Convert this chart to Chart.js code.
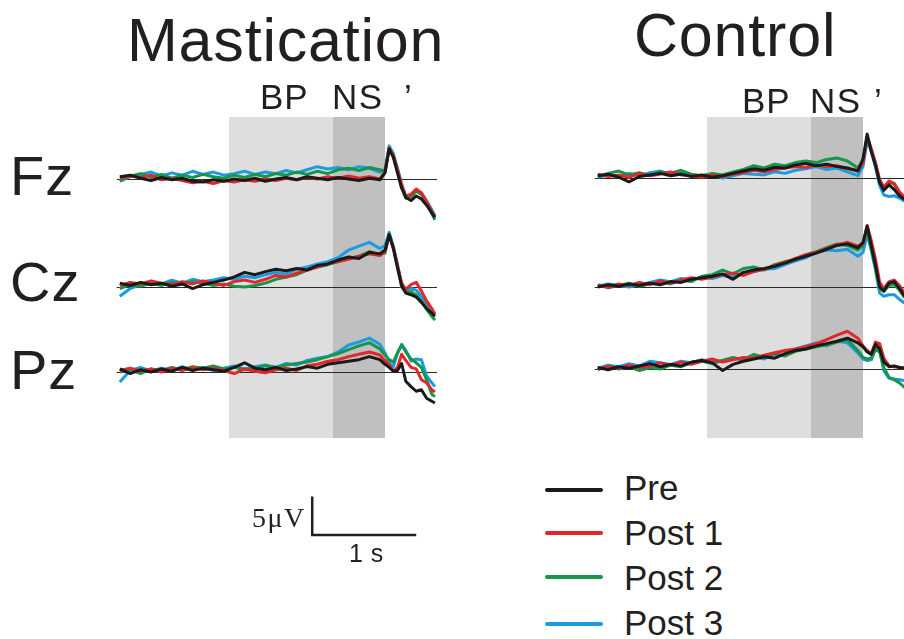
<!DOCTYPE html>
<html><head><meta charset="utf-8">
<script src="https://cdn.jsdelivr.net/npm/chart.js@4.4.1/dist/chart.umd.min.js"></script>
<style>
body{margin:0;width:904px;height:639px;overflow:hidden;background:#fff;position:relative;font-family:"Liberation Sans",Arial,sans-serif;color:#231f20}
.t{position:absolute;white-space:nowrap;line-height:1}
canvas{position:absolute}
</style></head><body>
<canvas id="mast" width="350" height="460" style="left:100px;top:100px"></canvas>
<canvas id="ctrl" width="324" height="360" style="left:580px;top:100px"></canvas>

<div class="t" style="left:127px;top:10px;font-size:61px;letter-spacing:0.8px">Mastication</div>
<div class="t" style="left:634px;top:5px;font-size:61px;letter-spacing:0.8px">Control</div>

<div class="t" style="left:260px;top:79px;font-size:35px;letter-spacing:1px">BP</div>
<div class="t" style="left:332px;top:79px;font-size:35px;letter-spacing:1.5px">NS</div>
<div class="t" style="left:404px;top:79px;font-size:35px">’</div>
<div class="t" style="left:742px;top:83px;font-size:35px;letter-spacing:1px">BP</div>
<div class="t" style="left:810px;top:83px;font-size:35px;letter-spacing:1.5px">NS</div>
<div class="t" style="left:874px;top:83px;font-size:35px">’</div>

<div id="elabels"></div>
<div id="legend"></div>

<div class="t" style="left:252px;top:504px;font-size:28px;letter-spacing:1.5px;font-family:'Liberation Serif','Times New Roman',serif">5μV</div>
<div class="t" style="left:349px;top:541px;font-size:25px;letter-spacing:0.5px">1 s</div>

<script>
// ---------------- DATA ----------------
const TIME = [-2.55,-2.45,-2.35,-2.25,-2.15,-2.05,-1.95,-1.85,-1.75,-1.65,-1.55,-1.45,-1.35,-1.25,-1.15,-1.05,-0.95,-0.85,-0.75,-0.65,-0.55,-0.45,-0.35,-0.25,-0.15,-0.05,0,0.04,0.08,0.12,0.16,0.2,0.25,0.3,0.35,0.4,0.45,0.48];
const ELECTRODES = ['Fz','Cz','Pz'];
const SERIES = ['Pre','Post 1','Post 2','Post 3'];
const BP_WINDOW = [-1.5,-0.5];
const NS_WINDOW = [-0.5,0];

// Mastication (µV, upward deflection)
const MAST_FZ_PRE = [0.3,0.5,0.1,-0.2,0.2,-0.1,0.1,-0.3,-0.4,-0.1,-0.3,0,-0.2,0.1,-0.3,0,0.2,-0.1,0.3,0.1,-0.1,0.2,0,-0.2,0.1,-0.1,0.8,3.9,2.8,0.8,-1.2,-2.4,-2.8,-2.2,-2.6,-3.4,-4.4,-5.0];
const MAST_FZ_P1  = [0.1,0.4,0.2,0.5,-0.1,0.1,-0.2,-0.5,-0.3,-0.6,-0.2,-0.4,-0.1,-0.3,0,-0.2,0.1,-0.1,0.2,0,0.3,0.1,0.4,0.1,0.3,0,0.9,4.0,3.0,1.2,-0.8,-2.2,-2.0,-1.3,-1.8,-3.0,-4.2,-4.9];
const MAST_FZ_P2  = [-0.2,0.4,0.7,0.2,0.6,0.1,0.5,0.2,0.6,0.3,0.1,0.5,0.2,0.6,0.3,0.7,0.5,0.9,0.6,1.0,0.7,1.2,1.4,1.1,1.5,1.2,1.0,4.1,3.1,1.0,-1.0,-2.5,-2.3,-1.6,-2.0,-3.1,-4.5,-5.3];
const MAST_FZ_P3  = [-0.3,0.3,0.6,0.9,0.4,0.8,0.5,1.0,0.6,0.9,0.5,0.7,1.0,0.6,0.9,0.7,1.1,0.8,1.2,1.6,1.3,1.5,1.2,1.6,1.4,0.9,1.2,4.3,3.3,1.4,-0.6,-2.3,-2.2,-1.5,-1.8,-2.8,-4.0,-4.8];

const MAST_CZ_PRE = [0.5,0.2,0.6,0.3,0.5,0.1,0.4,-0.2,0.3,0.6,0.9,1.3,1.9,1.6,2.0,2.3,2.1,2.4,2.2,2.8,3.0,3.5,3.9,3.7,4.5,4.3,4.8,6.8,5.0,2.5,0.2,-0.8,-1.0,-1.3,-2.0,-2.8,-3.4,-3.8];
const MAST_CZ_P1  = [0.2,0.6,0.4,0.8,0.5,0.3,0.7,0.4,0.8,0.5,0.2,0.7,0.9,0.6,1.0,1.5,1.3,1.8,2.2,2.6,3.0,3.3,3.6,4.0,4.3,4.1,4.6,6.6,5.2,2.8,0.5,-0.3,0.3,0.6,-0.5,-1.8,-2.8,-3.5];
const MAST_CZ_P2  = [-0.2,0.3,0.1,0.5,0.2,0.6,0.4,0.7,0.5,0.2,0.4,0.1,0,0.2,0.5,1.0,1.3,1.6,2.2,2.6,2.9,3.3,3.7,4.0,4.6,4.2,4.4,6.9,5.1,2.6,0,-0.7,-0.6,-1.0,-1.8,-2.9,-3.8,-4.3];
const MAST_CZ_P3  = [-1.2,-0.2,0.3,0.7,0.4,0.9,0.5,1.0,0.7,0.9,1.2,1.0,1.4,1.2,1.6,1.9,1.7,2.3,2.6,3.0,3.3,3.8,4.8,5.3,5.8,5.0,5.4,7.1,5.3,2.9,0.3,-0.5,-0.2,-0.4,-1.2,-2.2,-3.1,-3.6];

const MAST_PZ_PRE = [0.4,-0.2,0.3,0,0.4,0.1,0.6,0.2,0.5,0.3,0.1,0.6,1.2,0.5,0.3,0.6,0.2,0.4,0.7,0.5,1.0,1.2,1.4,1.6,2.0,1.6,1.0,0.6,0.1,0.2,1.1,-1.2,-1.9,-2.5,-2.3,-3.4,-3.8,-4.0];
const MAST_PZ_P1  = [0.2,0.5,0.1,0.4,0,0.5,0.2,0.6,0.3,0.5,0.2,-0.2,0.4,0.1,-0.1,0.3,0.5,0.2,0.8,1.0,1.4,1.6,2.0,2.3,2.6,2.2,1.5,0.9,0.1,0.6,2.3,1.5,0.6,0.4,-1.0,-1.4,-2.3,-2.6];
const MAST_PZ_P2  = [0,0.3,-0.2,0.4,0.2,0.6,0.3,0.7,0.5,0.8,0.4,0.6,0.3,0.5,0.8,0.6,0.9,1.1,1.3,1.6,2.0,2.4,2.9,3.4,3.8,3.0,2.2,1.6,1.3,2.5,3.5,2.6,1.7,1.2,0.6,-1.0,-2.9,-3.2];
const MAST_PZ_P3  = [-1.3,0.2,0.6,0.1,0.5,0.2,0.7,0.3,0.6,0.2,0.5,0.8,0.4,0.7,0.9,0.6,1.1,0.9,1.5,1.8,2.0,2.6,3.5,3.9,4.4,3.6,2.5,1.2,0.7,2.4,3.6,2.8,1.4,1.7,1.6,-0.5,-1.4,-1.9];

// Control
const CTRL_FZ_PRE = [0.3,0.5,0.1,-0.5,0.2,0.4,0.6,0.3,0.5,0.2,0.4,0.1,0.3,0.6,0.9,1.2,1.0,1.4,1.3,1.7,1.9,1.6,1.8,1.5,1.3,0.9,2.5,5.7,3.4,1.6,-0.6,-1.6,-0.9,-1.5,-2.3,-2.8,-3.2,-3.5];
const CTRL_FZ_P1  = [0.5,0.2,0.4,0.1,0.6,0.3,0.5,0.8,0.4,0.3,0.1,0.4,0.2,0.5,0.7,1.0,0.8,1.1,1.3,1.5,1.4,1.7,1.5,1.6,1.2,1.0,2.0,5.4,3.8,2.0,-0.2,-1.2,-0.4,-0.7,-1.8,-2.5,-3.0,-3.3];
const CTRL_FZ_P2  = [0.2,0.6,0.9,0.4,0.7,0.3,0.8,0.6,1.0,0.5,0.3,0.6,0.4,0.8,1.1,1.6,1.3,1.8,1.6,2.0,2.2,2.0,2.4,2.6,2.2,1.3,2.2,5.3,3.6,1.8,-0.4,-1.2,-0.5,-0.8,-2.0,-2.6,-3.1,-3.4];
const CTRL_FZ_P3  = [0.1,0.4,0.2,0.6,0.3,0.7,0.9,0.5,0.8,0.4,0.2,0.5,0,0.3,0.6,0.5,0.4,0.8,0.6,1.0,1.2,1.5,1.1,1.3,0.8,0.3,1.5,4.9,3.4,1.4,-1.0,-2.2,-2.4,-2.3,-2.6,-3.0,-3.4,-3.7];

const CTRL_CZ_PRE = [0,0.3,0.1,0.4,0.2,0.5,0.3,0.7,0.6,1.0,1.2,1.4,1.7,1.0,1.9,2.2,2.4,2.7,3.1,3.6,4.0,4.4,4.9,5.4,5.6,5.1,5.8,7.9,5.3,2.8,0,-0.5,0.5,0.7,-0.2,-1.2,-2.0,-2.5];
const CTRL_CZ_P1  = [0.2,0,0.4,0.2,0.6,0.3,0.8,0.5,0.9,1.2,1.0,1.3,1.6,1.8,1.5,2.0,2.3,2.8,3.2,3.7,4.2,4.5,5.0,5.5,5.8,5.3,5.6,8.0,6.0,3.6,0.6,-0.2,0.7,0.9,0.2,-0.8,-1.7,-2.2];
const CTRL_CZ_P2  = [0.3,-0.1,0.2,0.5,0.1,0.4,0.7,0.4,0.9,0.7,1.4,1.6,2.2,1.7,2.4,2.6,2.2,2.9,3.3,3.5,4.2,4.6,5.1,5.6,5.4,4.8,5.4,7.4,5.0,2.5,-0.2,-0.6,0.2,0.3,-0.4,-1.4,-2.2,-2.7];
const CTRL_CZ_P3  = [0.1,0.4,0.2,0,0.3,0.6,0.9,0.7,1.1,0.9,1.3,1.1,1.5,1.3,1.8,2.0,2.3,2.4,2.9,3.4,3.8,4.5,4.8,4.7,4.9,4.0,4.5,6.8,4.7,2.2,-0.8,-1.2,-1.0,-1.0,-1.6,-2.1,-2.6,-3.0];

const CTRL_PZ_PRE = [0.2,-0.1,0.3,0.1,0.4,0.7,0.3,0.6,0.4,0.9,1.1,0.8,-0.2,0.6,1.0,1.3,1.6,1.4,2.0,2.4,2.6,3.0,3.3,3.6,4.0,3.4,2.9,2.2,1.9,3.2,2.6,0.9,0.3,0.4,0.2,0.1,-0.2,-0.4];
const CTRL_PZ_P1  = [0,0.3,0.1,0.5,0.2,0.4,0.8,0.5,0.9,0.6,1.0,1.3,0.9,1.2,1.5,1.4,1.8,2.1,2.4,2.6,2.9,3.3,3.8,4.4,4.9,4.0,3.0,2.4,2.0,3.5,3.3,1.4,0.4,0.3,0.2,0.1,-0.1,-0.3];
const CTRL_PZ_P2  = [-0.1,0.4,0,0.3,-0.2,0.2,0,0.5,0.3,0.8,1.0,0.7,1.1,1.5,1.2,1.9,1.5,2.0,1.7,2.3,2.6,2.9,3.1,3.5,3.8,2.4,1.5,1.3,1.4,2.5,2.2,0.2,-1.1,-1.4,-1.8,-2.4,-2.6,-2.8];
const CTRL_PZ_P3  = [0.1,0.5,0.3,0.7,0.4,1.0,0.8,0.6,1.0,0.8,1.2,0.9,1.1,1.4,1.2,1.6,1.3,1.9,1.7,2.6,3.0,3.4,3.0,3.6,3.4,2.1,1.3,1.1,1.2,2.8,2.4,-0.2,-1.2,-1.3,-1.4,-1.5,-1.7,-1.9];

const SCALE_BAR_UV = 5;
const SCALE_BAR_S = 1;

// ---------------- STYLE / LAYOUT ----------------
const COLORS = ['#1a1a1a','#e3262a','#17954a','#1b9be0'];
const TEXT = '#231f20';
const PX_PER_UV = 7.7;
const AREA_TOP = 117, AREA_BOTTOM = 438;

const MAST = {Fz:[MAST_FZ_PRE,MAST_FZ_P1,MAST_FZ_P2,MAST_FZ_P3],
              Cz:[MAST_CZ_PRE,MAST_CZ_P1,MAST_CZ_P2,MAST_CZ_P3],
              Pz:[MAST_PZ_PRE,MAST_PZ_P1,MAST_PZ_P2,MAST_PZ_P3]};
const CTRL = {Fz:[CTRL_FZ_PRE,CTRL_FZ_P1,CTRL_FZ_P2,CTRL_FZ_P3],
              Cz:[CTRL_CZ_PRE,CTRL_CZ_P1,CTRL_CZ_P2,CTRL_CZ_P3],
              Pz:[CTRL_PZ_PRE,CTRL_PZ_P1,CTRL_PZ_P2,CTRL_PZ_P3]};

function yRange(basePx){
  return {min: -(AREA_BOTTOM - basePx) / PX_PER_UV, max: (basePx - AREA_TOP) / PX_PER_UV};
}

const panelPlugin = {
  id: 'panel',
  beforeDatasetsDraw(chart, args, opts){
    const {ctx, chartArea:a, scales} = chart;
    const x = scales.x;
    ctx.save();
    const b0 = x.getPixelForValue(BP_WINDOW[0]), b1 = x.getPixelForValue(BP_WINDOW[1]);
    const n0 = x.getPixelForValue(NS_WINDOW[0]), n1 = x.getPixelForValue(NS_WINDOW[1]);
    ctx.fillStyle = '#dedede';
    ctx.fillRect(b0, a.top, b1 - b0, a.bottom - a.top);
    ctx.fillStyle = '#c0c0c0';
    ctx.fillRect(n0, a.top, n1 - n0, a.bottom - a.top);
    ctx.strokeStyle = '#2a2a2a';
    ctx.lineWidth = 1;
    ELECTRODES.forEach(e => {
      const y = Math.round(scales['y' + e].getPixelForValue(0)) + 0.5;
      ctx.beginPath(); ctx.moveTo(a.left, y); ctx.lineTo(a.right, y); ctx.stroke();
    });
    ctx.restore();
  },
  afterDraw(chart, args, opts){
    if (!opts.scaleBar) return;
    const {ctx, chartArea:a, scales} = chart;
    const x0 = scales.x.getPixelForValue(opts.scaleBar.start);
    const x1 = scales.x.getPixelForValue(opts.scaleBar.start + SCALE_BAR_S);
    const h = scales.yFz.getPixelForValue(0) - scales.yFz.getPixelForValue(SCALE_BAR_UV);
    const yb = a.bottom + opts.scaleBar.offset;
    ctx.save();
    ctx.strokeStyle = TEXT; ctx.lineWidth = 2.5; ctx.lineCap = 'butt';
    ctx.beginPath();
    ctx.moveTo(x0, yb - h); ctx.lineTo(x0, yb); ctx.lineTo(x1, yb);
    ctx.stroke();
    ctx.restore();
  }
};

function makeChart(id, data, baselines, xmin, xmax, padding, scaleBar){
  const datasets = [];
  ELECTRODES.forEach((e, ei) => {
    data[e].forEach((vals, si) => {
      datasets.push({
        label: e + ' ' + SERIES[si],
        data: TIME.map((t, i) => ({x: t, y: vals[i]})),
        yAxisID: 'y' + e,
        borderColor: COLORS[si],
        borderWidth: 3,
        borderJoinStyle: 'round',
        pointRadius: 0,
        tension: 0,
        fill: false
      });
    });
  });
  const scales = {x: {type: 'linear', min: xmin, max: xmax, display: false}};
  ELECTRODES.forEach((e, ei) => {
    scales['y' + e] = Object.assign({type: 'linear', display: false}, yRange(baselines[ei]));
  });
  return new Chart(document.getElementById(id), {
    type: 'line',
    data: {datasets},
    options: {
      responsive: false, animation: false, devicePixelRatio: 1,
      layout: {padding},
      scales,
      plugins: {legend: {display: false}, tooltip: {enabled: false}, panel: {scaleBar}}
    },
    plugins: [panelPlugin]
  });
}

makeChart('mast', MAST, [179, 287, 372], -2.58, 0.5,
  {left: 16.7, right: 13, top: 17, bottom: 122}, {start: -0.7, offset: 97});
makeChart('ctrl', CTRL, [178, 287, 369], -2.58, 0.394,
  {left: 14.7, right: 0, top: 17, bottom: 22}, null);

// Electrode labels
const EL_TOPS = [147.6, 253.6, 341.6];
const elDiv = document.getElementById('elabels');
ELECTRODES.forEach((e, i) => {
  const d = document.createElement('div');
  d.className = 't'; d.textContent = e;
  d.style.cssText = `left:10px;top:${EL_TOPS[i]}px;font-size:56px;letter-spacing:1px`;
  elDiv.appendChild(d);
});

// Legend
const LEG_LINE_Y = [490, 533, 577, 624];
const LEG_TEXT_TOP = [470.4, 515.4, 560.4, 605.4];
const lg = document.getElementById('legend');
SERIES.forEach((s, i) => {
  const ln = document.createElement('div');
  ln.style.cssText = `position:absolute;left:545px;width:58px;height:3.5px;top:${LEG_LINE_Y[i]-1.75}px;background:${COLORS[i]};border-radius:2px`;
  lg.appendChild(ln);
  const tx = document.createElement('div');
  tx.className = 't'; tx.textContent = s;
  tx.style.cssText = `left:624px;top:${LEG_TEXT_TOP[i]}px;font-size:35px`;
  lg.appendChild(tx);
});
</script>
</body></html>
